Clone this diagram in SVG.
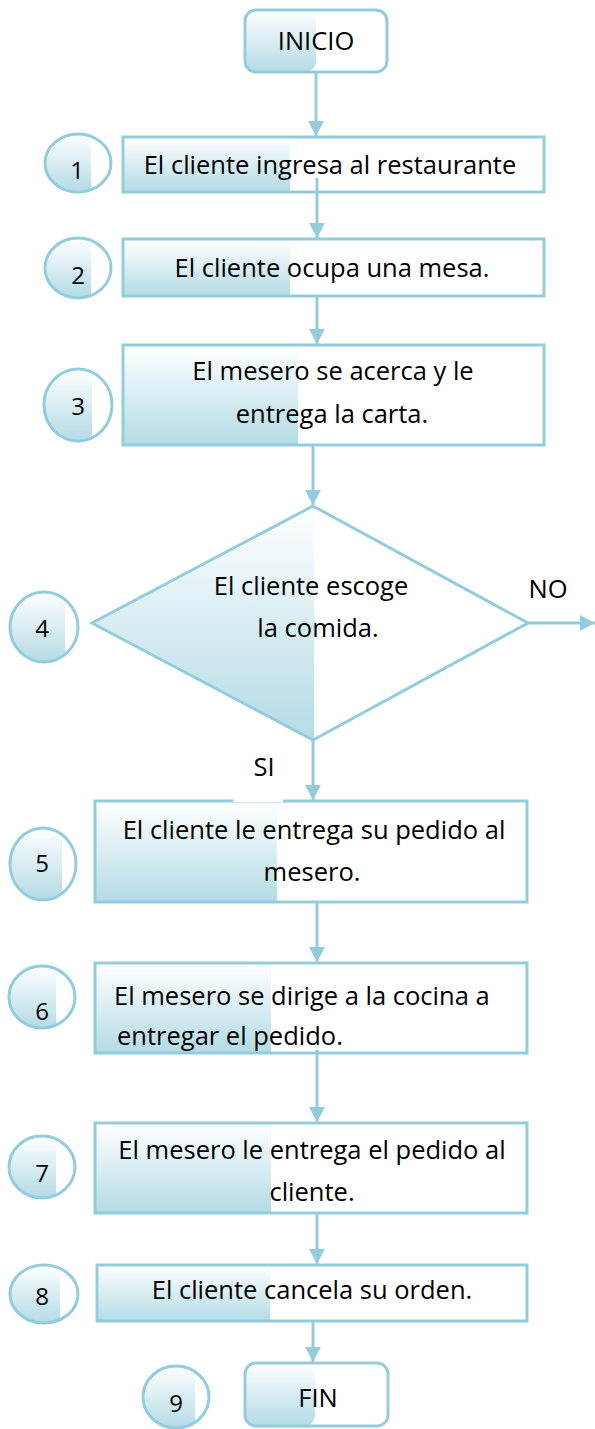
<svg xmlns="http://www.w3.org/2000/svg" width="595" height="1429" viewBox="0 0 595 1429">
<style>
.bg{fill:#ffffff}
.gr{fill:url(#g)}
.ol{fill:none;stroke:#93cddd;stroke-width:3}
.t{font-family:"Open Sans","Liberation Sans",sans-serif;font-size:25.5px;fill:#000000;text-anchor:middle}
.ts{font-family:"Open Sans","Liberation Sans",sans-serif;font-size:25.5px;fill:#000000;text-anchor:start}
.n{font-family:"Open Sans","Liberation Sans",sans-serif;font-size:24px;fill:#000000;text-anchor:middle}
.c{fill:none;stroke:#93cddd;stroke-width:3;marker-end:url(#a)}
</style>
<defs>
<linearGradient id="g" x1="0" y1="0" x2="0" y2="1">
<stop offset="0" stop-color="#ffffff"/>
<stop offset="1" stop-color="#b3dbe5"/>
</linearGradient>
<marker id="a" markerUnits="userSpaceOnUse" markerWidth="16" markerHeight="16" refX="15" refY="8" orient="auto">
<path d="M0,0 L15,8 L0,16 z" fill="#93cddd"/>
</marker>
<clipPath id="k1"><ellipse cx="78" cy="163" rx="33" ry="29"/></clipPath>
<clipPath id="k2"><ellipse cx="78" cy="268" rx="33" ry="30"/></clipPath>
<clipPath id="k3"><ellipse cx="78" cy="405" rx="34" ry="36"/></clipPath>
<clipPath id="k4"><ellipse cx="44" cy="627" rx="34" ry="35"/></clipPath>
<clipPath id="k5"><ellipse cx="43" cy="864" rx="33" ry="36"/></clipPath>
<clipPath id="k6"><ellipse cx="42" cy="997" rx="33" ry="31"/></clipPath>
<clipPath id="k7"><ellipse cx="42" cy="1167" rx="33" ry="31"/></clipPath>
<clipPath id="k8"><ellipse cx="44" cy="1294" rx="34" ry="29"/></clipPath>
<clipPath id="k9"><ellipse cx="176" cy="1397" rx="33" ry="31"/></clipPath>
<clipPath id="kd"><polygon points="313,506 528,623 313,740 92,623"/></clipPath>
</defs>

<g id="inicio">
<rect class="bg" x="245" y="10" width="142" height="62" rx="11"/>
<rect class="gr" x="245" y="10" width="71" height="62" rx="11"/>
<rect class="bg" x="316" y="11" width="60" height="60"/>
<rect class="ol" x="245" y="10" width="142" height="62" rx="11"/>
<text class="t" x="316" y="50">INICIO</text>
</g>

<g id="n1">
<rect class="bg" x="123" y="137" width="421" height="55"/>
<rect class="gr" x="123" y="137" width="167" height="55"/>
<rect class="ol" x="123" y="137" width="421" height="55"/>
<text class="t" x="330" y="174">El cliente ingresa al restaurante</text>
</g>
<g id="c1">
<ellipse class="bg" cx="78" cy="163" rx="33" ry="29"/>
<rect class="gr" x="45" y="134" width="46" height="58" clip-path="url(#k1)"/>
<ellipse class="ol" cx="78" cy="163" rx="33" ry="29"/>
<text class="n" x="77" y="179">1</text>
</g>

<g id="n2">
<rect class="bg" x="123" y="239" width="421" height="57"/>
<rect class="gr" x="123" y="239" width="167" height="57"/>
<rect class="ol" x="123" y="239" width="421" height="57"/>
<text class="t" x="332" y="277">El cliente ocupa una mesa.</text>
</g>
<g id="c2">
<ellipse class="bg" cx="78" cy="268" rx="33" ry="30"/>
<rect class="gr" x="45" y="238" width="46" height="60" clip-path="url(#k2)"/>
<ellipse class="ol" cx="78" cy="268" rx="33" ry="30"/>
<text class="n" x="78" y="284">2</text>
</g>

<g id="n3">
<rect class="bg" x="123" y="345" width="421" height="100"/>
<rect class="gr" x="123" y="345" width="175" height="100"/>
<rect class="ol" x="123" y="345" width="421" height="100"/>
<text class="t" x="333" y="380">El mesero se acerca y le</text>
<text class="t" x="332" y="423">entrega la carta.</text>
</g>
<g id="c3">
<ellipse class="bg" cx="78" cy="405" rx="34" ry="36"/>
<rect class="gr" x="44" y="369" width="48" height="72" clip-path="url(#k3)"/>
<ellipse class="ol" cx="78" cy="405" rx="34" ry="36"/>
<text class="n" x="78" y="415">3</text>
</g>

<g id="n4">
<polygon class="bg" points="313,506 528,623 313,740 92,623"/>
<rect class="gr" x="92" y="506" width="222" height="234" clip-path="url(#kd)"/>
<polygon class="ol" points="313,506 528,623 313,740 92,623"/>
<text class="t" x="311" y="595">El cliente escoge</text>
<text class="t" x="318" y="637">la comida.</text>
</g>
<g id="c4">
<ellipse class="bg" cx="44" cy="627" rx="34" ry="35"/>
<rect class="gr" x="10" y="592" width="55" height="70" clip-path="url(#k4)"/>
<ellipse class="ol" cx="44" cy="627" rx="34" ry="35"/>
<text class="n" x="42" y="637">4</text>
</g>

<g id="n5">
<rect class="bg" x="95" y="801" width="432" height="101"/>
<rect class="gr" x="95" y="801" width="182" height="101"/>
<rect class="ol" x="95" y="801" width="432" height="101"/>
<text class="t" x="314" y="839">El cliente le entrega su pedido al</text>
<text class="t" x="312" y="881">mesero.</text>
</g>
<g id="c5">
<ellipse class="bg" cx="43" cy="864" rx="33" ry="36"/>
<rect class="gr" x="10" y="828" width="52" height="72" clip-path="url(#k5)"/>
<ellipse class="ol" cx="43" cy="864" rx="33" ry="36"/>
<text class="n" x="42" y="872">5</text>
</g>

<g id="n6">
<rect class="bg" x="95" y="963" width="432" height="90"/>
<rect class="gr" x="95" y="963" width="176" height="90"/>
<rect class="ol" x="95" y="963" width="432" height="90"/>
<text class="ts" x="114" y="1005">El mesero se dirige a la cocina a</text>
<text class="ts" x="117" y="1045">entregar el pedido.</text>
</g>
<g id="c6">
<ellipse class="bg" cx="42" cy="997" rx="33" ry="31"/>
<rect class="gr" x="9" y="966" width="47" height="62" clip-path="url(#k6)"/>
<ellipse class="ol" cx="42" cy="997" rx="33" ry="31"/>
<text class="n" x="42" y="1020">6</text>
</g>

<g id="n7">
<rect class="bg" x="95" y="1123" width="432" height="90"/>
<rect class="gr" x="95" y="1123" width="176" height="90"/>
<rect class="ol" x="95" y="1123" width="432" height="90"/>
<text class="t" x="312" y="1159">El mesero le entrega el pedido al</text>
<text class="t" x="312" y="1201">cliente.</text>
</g>
<g id="c7">
<ellipse class="bg" cx="42" cy="1167" rx="33" ry="31"/>
<rect class="gr" x="9" y="1136" width="47" height="62" clip-path="url(#k7)"/>
<ellipse class="ol" cx="42" cy="1167" rx="33" ry="31"/>
<text class="n" x="42" y="1182">7</text>
</g>

<g id="n8">
<rect class="bg" x="97" y="1265" width="430" height="56"/>
<rect class="gr" x="97" y="1265" width="173" height="56"/>
<rect class="ol" x="97" y="1265" width="430" height="56"/>
<text class="t" x="312" y="1299">El cliente cancela su orden.</text>
</g>
<g id="c8">
<ellipse class="bg" cx="44" cy="1294" rx="34" ry="29"/>
<rect class="gr" x="10" y="1265" width="50" height="58" clip-path="url(#k8)"/>
<ellipse class="ol" cx="44" cy="1294" rx="34" ry="29"/>
<text class="n" x="42" y="1305">8</text>
</g>

<g id="fin">
<rect class="bg" x="245" y="1363" width="143" height="63" rx="11"/>
<rect class="gr" x="245" y="1363" width="70" height="63" rx="11"/>
<rect class="bg" x="315" y="1364" width="60" height="61"/>
<rect class="ol" x="245" y="1363" width="143" height="63" rx="11"/>
<text class="t" x="318" y="1407">FIN</text>
</g>
<g id="c9">
<ellipse class="bg" cx="176" cy="1397" rx="33" ry="31"/>
<rect class="gr" x="143" y="1366" width="52" height="62" clip-path="url(#k9)"/>
<ellipse class="ol" cx="176" cy="1397" rx="33" ry="31"/>
<text class="n" x="176" y="1412">9</text>
</g>

<g id="labels">
<rect class="bg" x="233" y="752" width="50" height="50"/>
<text class="t" x="264" y="776">SI</text>
<text class="t" x="548" y="598">NO</text>
</g>

<g id="connectors">
<line class="c" x1="316" y1="72" x2="316" y2="136"/>
<line class="c" x1="317" y1="178" x2="317" y2="238"/>
<line class="c" x1="317" y1="297" x2="317" y2="344"/>
<line class="c" x1="313" y1="445" x2="313" y2="505"/>
<line class="c" x1="528" y1="623" x2="595" y2="623"/>
<line class="c" x1="313" y1="740" x2="313" y2="800"/>
<line class="c" x1="317" y1="902" x2="317" y2="962"/>
<line class="c" x1="317" y1="1050" x2="317" y2="1122"/>
<line class="c" x1="317" y1="1213" x2="317" y2="1264"/>
<line class="c" x1="313" y1="1321" x2="313" y2="1362"/>
</g>
</svg>
